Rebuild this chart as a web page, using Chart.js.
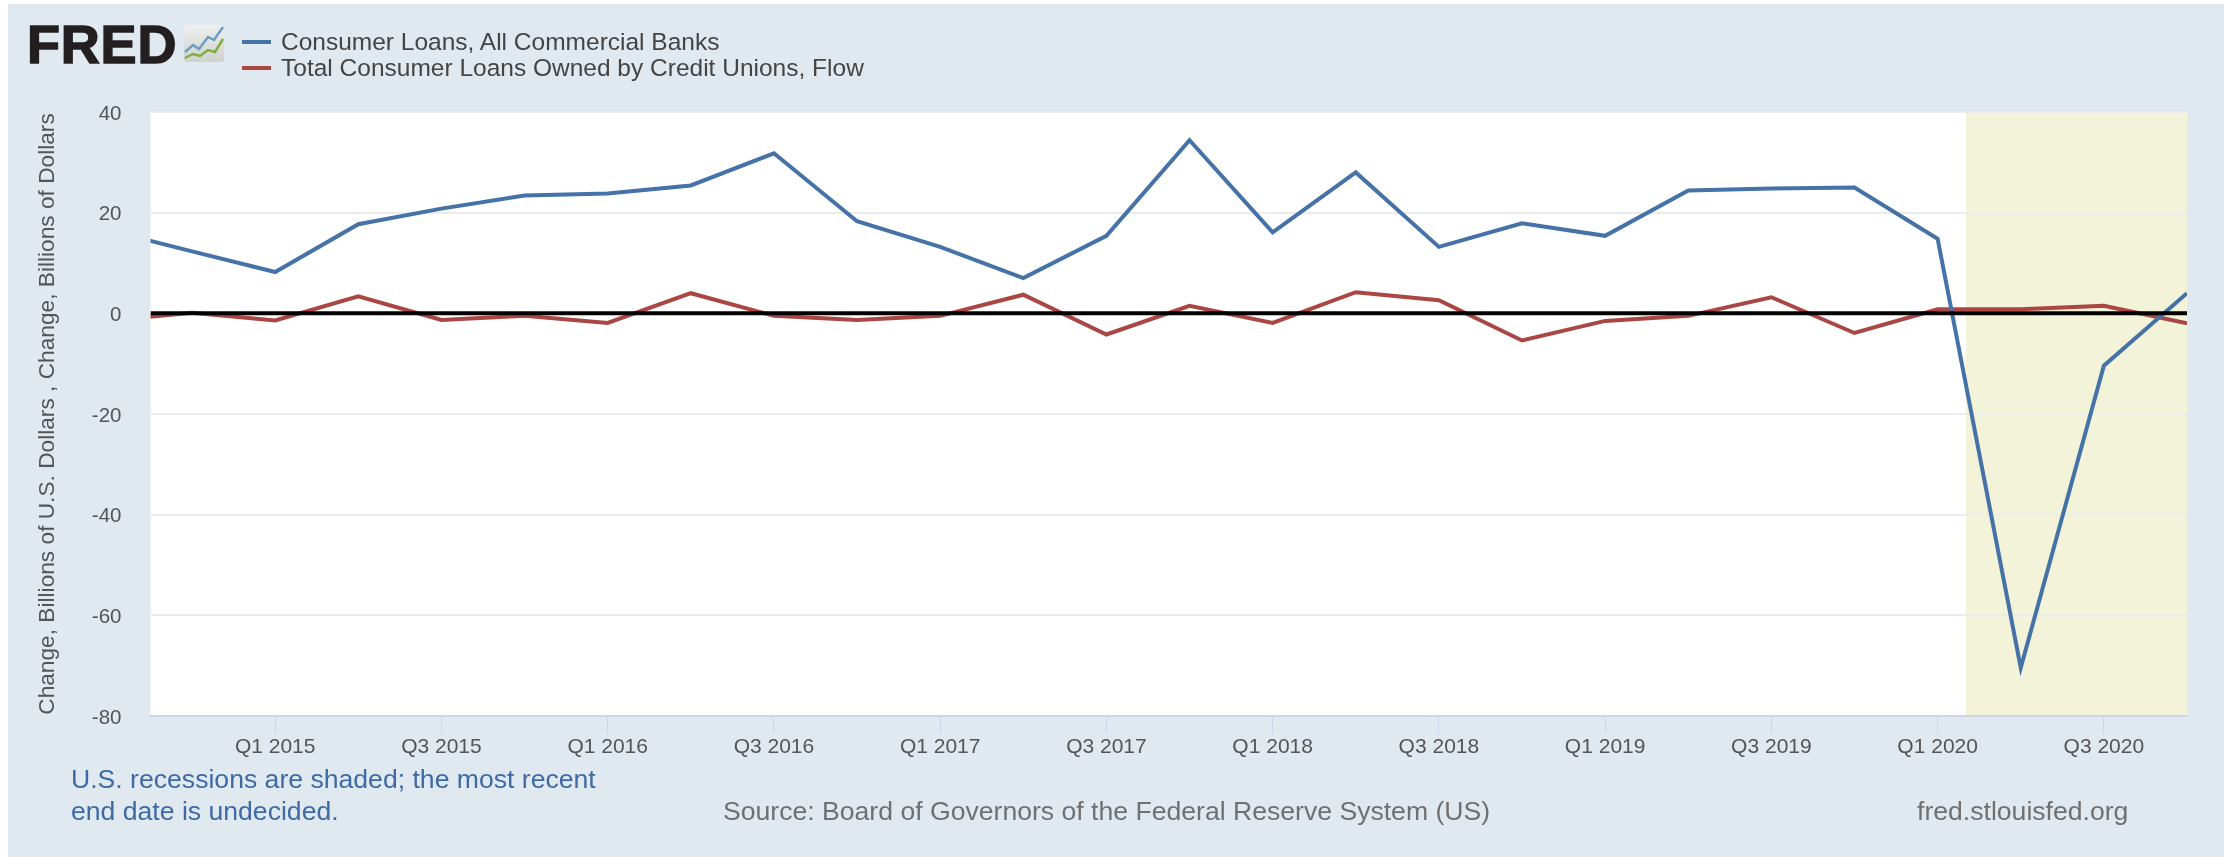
<!DOCTYPE html>
<html>
<head>
<meta charset="utf-8">
<title>FRED consumer loans</title>
<script src="https://cdn.jsdelivr.net/npm/chart.js@4"></script>
<style>
  html, body { margin: 0; padding: 0; background: #fff; }
  #page { position: absolute; left: 8px; top: 4px; width: 2216px; height: 853px; background: #e1e9f0; }
  #wrap { position: absolute; left: 0; top: 0; width: 2224px; height: 857px; }
  .txt { position: absolute; font-family: "Liberation Sans", Arial, sans-serif; white-space: nowrap; line-height: 1; }
  .swatch { position: absolute; left: 242px; width: 29px; height: 4px; }
</style>
</head>
<body>
<div id="page"></div>
<div id="wrap"><canvas id="chart" width="2224" height="857"></canvas></div>

<div class="txt" style="left:27px;top:17px;font-size:54px;font-weight:bold;color:#231f20;-webkit-text-stroke:1.5px #231f20;letter-spacing:0.8px">FRED</div>
<svg style="position:absolute;left:184px;top:25px" width="40" height="37">
  <defs>
    <linearGradient id="tile" x1="0" y1="0" x2="0" y2="1">
      <stop offset="0" stop-color="#eef0ef"/>
      <stop offset="1" stop-color="#cfd1cf"/>
    </linearGradient>
  </defs>
  <rect width="40" height="37" rx="3" fill="url(#tile)"/>
  <polyline points="1,27 9,20 15,24 24,12 30,15 39,2" fill="none" stroke="#6f9dc0" stroke-width="2.5"/>
  <polyline points="1,33 9,29 16,31 24,25 31,27 39,14" fill="none" stroke="#7fae3f" stroke-width="2.5"/>
</svg>

<div class="swatch" style="top:40px;background:#4572a7"></div>
<div class="swatch" style="top:66px;background:#aa4643"></div>
<div class="txt" style="left:281px;top:30px;font-size:24.5px;color:#444">Consumer Loans, All Commercial Banks</div>
<div class="txt" style="left:281px;top:56px;font-size:24.5px;color:#444">Total Consumer Loans Owned by Credit Unions, Flow</div>

<div class="txt" style="left:71px;top:766px;font-size:26.6px;color:#3e6aa5">U.S. recessions are shaded; the most recent</div>
<div class="txt" style="left:71px;top:798px;font-size:26.6px;color:#3e6aa5">end date is undecided.</div>
<div class="txt" style="left:723px;top:798px;font-size:26.6px;color:#707070">Source: Board of Governors of the Federal Reserve System (US)</div>
<div class="txt" style="left:1917px;top:798px;font-size:26.6px;color:#707070">fred.stlouisfed.org</div>

<script>
// quarters run Q3 2014 .. Q4 2020, the first one sits left of the plot edge
const quarters = [
  "Q3 2014", "Q4 2014",
  "Q1 2015", "Q2 2015", "Q3 2015", "Q4 2015",
  "Q1 2016", "Q2 2016", "Q3 2016", "Q4 2016",
  "Q1 2017", "Q2 2017", "Q3 2017", "Q4 2017",
  "Q1 2018", "Q2 2018", "Q3 2018", "Q4 2018",
  "Q1 2019", "Q2 2019", "Q3 2019", "Q4 2019",
  "Q1 2020", "Q2 2020", "Q3 2020", "Q4 2020"
];
const commercialBanks = [
  16.5, 12.3,
  8.2, 17.7, 20.8, 23.4,
  23.8, 25.4, 31.8, 18.3,
  13.2, 7.0, 15.4, 34.4,
  16.1, 28.0, 13.2, 17.9,
  15.4, 24.4, 24.8, 25.0,
  14.8, -70.4, -10.4, 4.0
];
const creditUnions = [
  -1.4, 0.1,
  -1.4, 3.4, -1.3, -0.5,
  -1.9, 4.0, -0.5, -1.3,
  -0.5, 3.7, -4.2, 1.5,
  -1.9, 4.2, 2.6, -5.4,
  -1.5, -0.5, 3.2, -3.9,
  0.8, 0.8, 1.5, -2.0
];
const yTicks = [40, 20, 0, -20, -40, -60, -80];
const recession = [22.34, 25]; // early Feb 2020 to the end, in quarter positions
const xMin = 0.5;
const xMax = 25;

const plotBand = {
  id: "plotBand",
  beforeDraw(chart) {
    const { ctx, chartArea: a, scales } = chart;
    ctx.save();
    ctx.fillStyle = "#fff";
    ctx.fillRect(a.left, a.top, a.right - a.left, a.bottom - a.top);
    const x0 = scales.x.getPixelForValue(recession[0]);
    const x1 = scales.x.getPixelForValue(recession[1]);
    ctx.fillStyle = "#f3f3da";
    ctx.fillRect(x0, a.top, x1 - x0, a.bottom - a.top);
    ctx.restore();
  }
};

function points(values) {
  return values.map((v, i) => ({ x: i, y: v }));
}

new Chart(document.getElementById("chart"), {
  type: "line",
  data: {
    datasets: [
      { label: "Zero", data: [{ x: xMin, y: 0 }, { x: xMax, y: 0 }], borderColor: "#000", borderWidth: 4, pointRadius: 0, order: 0 },
      { label: "Consumer Loans, All Commercial Banks", data: points(commercialBanks), borderColor: "#4572a7", borderWidth: 4, pointRadius: 0, order: 1 },
      { label: "Total Consumer Loans Owned by Credit Unions, Flow", data: points(creditUnions), borderColor: "#aa4643", borderWidth: 4, pointRadius: 0, order: 2 }
    ]
  },
  options: {
    responsive: false,
    animation: false,
    layout: { padding: { top: 112, right: 37, bottom: 0, left: 0 } },
    plugins: { legend: { display: false }, tooltip: { enabled: false } },
    scales: {
      x: {
        type: "linear",
        min: xMin,
        max: xMax,
        afterFit(scale) { scale.height = 857 - 716; },
        afterBuildTicks(scale) {
          scale.ticks = quarters
            .map((q, i) => ({ value: i, q }))
            .filter(t => /Q[13]/.test(t.q))
            .filter(t => t.value >= xMin);
        },
        border: { color: "#ccd6eb", width: 2 },
        grid: { drawOnChartArea: false, drawTicks: true, tickLength: 18, tickColor: "#ccd6eb", tickWidth: 1 },
        ticks: {
          autoSkip: false,
          maxRotation: 0,
          padding: 1,
          color: "#555",
          font: { family: "Liberation Sans", size: 21 },
          callback: v => quarters[v]
        }
      },
      y: {
        min: -80,
        max: 40,
        afterFit(scale) { scale.width = 150.5; },
        afterBuildTicks(scale) { scale.ticks = yTicks.map(v => ({ value: v })); },
        border: { display: false },
        grid: { color: "#ececec", lineWidth: 2, drawTicks: false },
        title: {
          display: true,
          text: "Change, Billions of U.S. Dollars , Change, Billions of Dollars",
          color: "#555",
          font: { family: "Liberation Sans", size: 22.7 },
          padding: { top: 34, bottom: 0 }
        },
        ticks: {
          padding: 29,
          labelOffset: 2,
          color: "#555",
          font: { family: "Liberation Sans", size: 20.5 }
        }
      }
    }
  },
  plugins: [plotBand]
});
</script>
</body>
</html>
